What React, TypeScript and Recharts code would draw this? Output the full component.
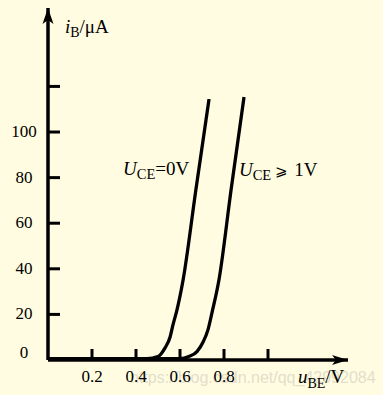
import React from 'react';
import { LineChart, Line, XAxis, YAxis, ReferenceDot } from 'recharts';

// u_BE (V) vs i_B (µA)
const curveUce0 = [
  { v: 0, i: 0.6 },
  { v: 0.3, i: 0.6 },
  { v: 0.45, i: 0.6 },
  { v: 0.5, i: 1.5 },
  { v: 0.532, i: 5.3 },
  { v: 0.555, i: 10.1 },
  { v: 0.568, i: 15.4 },
  { v: 0.586, i: 21.9 },
  { v: 0.614, i: 35.1 },
  { v: 0.672, i: 74.6 },
  { v: 0.732, i: 114.5 },
];

const curveUce1 = [
  { v: 0, i: 0.6 },
  { v: 0.45, i: 0.6 },
  { v: 0.6, i: 0.6 },
  { v: 0.64, i: 1.5 },
  { v: 0.677, i: 3.7 },
  { v: 0.705, i: 7.9 },
  { v: 0.727, i: 13.2 },
  { v: 0.745, i: 20.6 },
  { v: 0.777, i: 35.1 },
  { v: 0.832, i: 74.6 },
  { v: 0.891, i: 115.4 },
];

const xTicks = [0.2, 0.4, 0.6, 0.8, 1.0];
const xTickLabels = ['0.2', '0.4', '0.6', '0.8', ''];
const yTicks = [0, 20, 40, 60, 80, 100, 120];
const yTickLabels = ['0', '20', '40', '60', '80', '100', ''];

const X_MAX = 1.3636;
const Y_MAX = 154.4;

const BG = '#FFFCE1';
const INK = '#000000';
const SERIF = '"Liberation Serif", "Times New Roman", Times, serif';
const serifStyle = { fontFamily: SERIF };

const YTick = (props: any) => {
  const { x, y, payload } = props;
  const label = yTickLabels[yTicks.indexOf(payload.value)] ?? '';
  const isZero = payload.value === 0;
  return (
    <g>
      {!isZero && <line x1={x} y1={y} x2={x + 12} y2={y} stroke={INK} strokeWidth={3} />}
      {label && (
        <text
          x={x - 24}
          y={isZero ? y - 2 : y + 5}
          textAnchor="middle"
          style={{ ...serifStyle, fontSize: 17 }}
          fill={INK}
        >
          {label}
        </text>
      )}
    </g>
  );
};

const XTick = (props: any) => {
  const { x, y, payload } = props;
  const idx = xTicks.findIndex((t) => Math.abs(t - payload.value) < 1e-6);
  const label = idx >= 0 ? xTickLabels[idx] : '';
  return (
    <g>
      <line x1={x} y1={y} x2={x} y2={y - 11} stroke={INK} strokeWidth={3} />
      {label && (
        <text x={x} y={y + 22} textAnchor="middle" style={{ ...serifStyle, fontSize: 17 }} fill={INK}>
          {label}
        </text>
      )}
    </g>
  );
};

const YArrow = (p: any) => (
  <path
    d={`M${p.cx},${p.cy} L${p.cx + 5.5},${p.cy + 16} L${p.cx},${p.cy + 12} L${p.cx - 5.5},${p.cy + 16} Z`}
    fill={INK}
  />
);

const XArrow = (p: any) => (
  <path
    d={`M${p.cx},${p.cy} L${p.cx - 16},${p.cy - 5} L${p.cx - 12},${p.cy} L${p.cx - 16},${p.cy + 5} Z`}
    fill={INK}
  />
);

const LabelUce0 = (p: any) => (
  <text x={p.cx} y={p.cy} style={{ ...serifStyle, fontSize: 19 }} fill={INK}>
    <tspan fontStyle="italic">U</tspan>
    <tspan style={{ fontSize: 14.5 }} dy={4}>CE</tspan>
    <tspan dy={-4}>=0V</tspan>
  </text>
);

const LabelUce1 = (p: any) => (
  <text x={p.cx} y={p.cy} style={{ ...serifStyle, fontSize: 19 }} fill={INK}>
    <tspan fontStyle="italic">U</tspan>
    <tspan style={{ fontSize: 14.5 }} dy={4}>CE</tspan>
    <tspan dy={-4} dx={4} style={{ fontFamily: '"DejaVu Serif", serif', fontSize: 15 }}>⩾</tspan>
    <tspan dx={6}>1V</tspan>
  </text>
);

const YLabel = (p: any) => (
  <text x={p.cx} y={p.cy} style={{ ...serifStyle, fontSize: 19 }} fill={INK}>
    <tspan fontStyle="italic">i</tspan>
    <tspan style={{ fontSize: 14 }} dy={4}>B</tspan>
    <tspan dy={-4}>/μA</tspan>
  </text>
);

const XLabel = (p: any) => (
  <text x={p.cx} y={p.cy} style={{ ...serifStyle, fontSize: 19 }} fill={INK}>
    <tspan fontStyle="italic">u</tspan>
    <tspan style={{ fontSize: 14 }} dy={5}>BE</tspan>
    <tspan dy={-5}>/V</tspan>
  </text>
);

const Watermark = (p: any) => (
  <text
    x={p.cx}
    y={p.cy}
    style={{ fontFamily: '"Liberation Sans", Arial, sans-serif', fontSize: 16 }}
    fill="#E2DFCB"
  >
    https://blog.csdn.net/qq_42992084
  </text>
);

export default function App() {
  return (
    <div style={{ position: 'absolute', left: 0, top: 0, width: 383, height: 395, background: BG }}>
      <LineChart
        width={383}
        height={395}
        margin={{ top: 8, right: 35, bottom: 0, left: 0 }}
        style={{ background: BG }}
      >
        <XAxis
          type="number"
          dataKey="v"
          domain={[0, X_MAX]}
          allowDataOverflow
          ticks={xTicks}
          tick={<XTick />}
          tickLine={false}
          tickSize={0}
          tickMargin={0}
          height={35}
          axisLine={{ stroke: INK, strokeWidth: 3.5 }}
          interval={0}
        />
        <YAxis
          type="number"
          dataKey="i"
          domain={[0, Y_MAX]}
          allowDataOverflow
          ticks={yTicks}
          tick={<YTick />}
          tickLine={false}
          tickSize={0}
          tickMargin={0}
          width={48}
          axisLine={{ stroke: INK, strokeWidth: 3.5 }}
          interval={0}
        />
        <ReferenceDot x={0.373} y={-10.1} r={0} ifOverflow="visible" shape={<Watermark />} />
        <Line
          data={curveUce0}
          dataKey="i"
          type="monotone"
          stroke={INK}
          strokeWidth={3.3}
          dot={false}
          isAnimationActive={false}
        />
        <Line
          data={curveUce1}
          dataKey="i"
          type="monotone"
          stroke={INK}
          strokeWidth={3.3}
          dot={false}
          isAnimationActive={false}
        />
        <ReferenceDot x={0} y={Y_MAX} r={0} ifOverflow="visible" shape={<YArrow />} />
        <ReferenceDot x={X_MAX} y={0} r={0} ifOverflow="visible" shape={<XArrow />} />
        <ReferenceDot x={0.341} y={81.1} r={0} ifOverflow="visible" shape={<LabelUce0 />} />
        <ReferenceDot x={0.868} y={80.7} r={0} ifOverflow="visible" shape={<LabelUce1 />} />
        <ReferenceDot x={0.077} y={143.4} r={0} ifOverflow="visible" shape={<YLabel />} />
        <ReferenceDot x={1.136} y={-10.1} r={0} ifOverflow="visible" shape={<XLabel />} />
      </LineChart>
    </div>
  );
}
